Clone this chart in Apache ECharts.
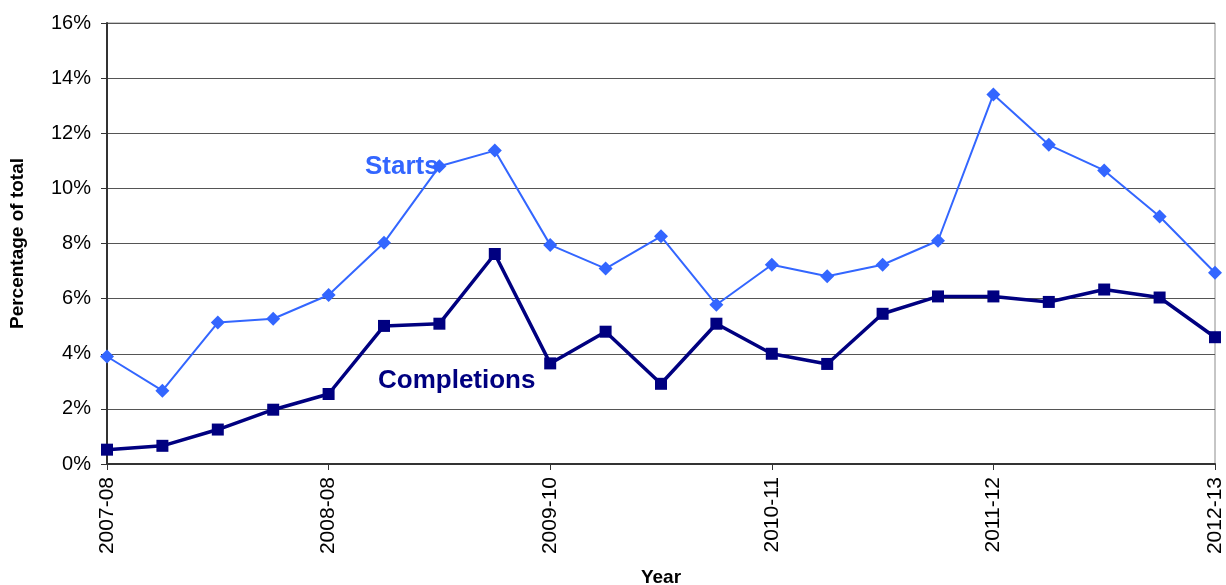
<!DOCTYPE html>
<html>
<head>
<meta charset="utf-8">
<script src="https://cdn.jsdelivr.net/npm/echarts@6/dist/echarts.min.js"></script>
<style>
html,body{margin:0;padding:0;background:#fff;}
#chart{width:1226px;height:585px;}
</style>
</head>
<body>
<div id="chart"></div>
<script>
var categories = ['2007-08','','','','2008-08','','','','2009-10','','','','2010-11','','','','2011-12','','','','2012-13'];
var starts = [3.9,2.66,5.13,5.27,6.13,8.03,10.8,11.37,7.95,7.09,8.26,5.78,7.23,6.81,7.23,8.1,13.41,11.58,10.65,8.98,6.94];
var completions = [0.52,0.66,1.25,1.97,2.54,5.01,5.09,7.62,3.65,4.8,2.91,5.09,4.0,3.63,5.45,6.08,6.08,5.88,6.33,6.04,4.6];
var yTicks = {min:0, max:16, interval:2};

var chart = echarts.init(document.getElementById('chart'));
var font = 'Arial, "Liberation Sans", sans-serif';
chart.setOption({
  animation:false,
  backgroundColor:'#fff',
  grid:{left:107,right:11,top:23,bottom:121,show:true,borderColor:'#8c8c8c',borderWidth:1,containLabel:false,outerBoundsMode:'none'},
  xAxis:{
    type:'category',data:categories,boundaryGap:false,
    name:'Year',nameLocation:'middle',nameGap:104,
    nameTextStyle:{fontFamily:font,fontWeight:'bold',fontSize:19,color:'#000'},
    axisLine:{lineStyle:{color:'#333',width:2}},
    axisTick:{show:true,interval:3,length:6,lineStyle:{color:'#333'}},
    axisLabel:{interval:3,rotate:90,margin:13,fontFamily:font,fontSize:21,color:'#000'},
    splitLine:{show:false}
  },
  yAxis:{
    type:'value',min:yTicks.min,max:yTicks.max,interval:yTicks.interval,
    name:'Percentage of total',nameLocation:'middle',nameGap:80,
    nameTextStyle:{fontFamily:font,fontWeight:'bold',fontSize:19,color:'#000'},
    axisLine:{show:true,lineStyle:{color:'#333',width:2}},
    axisTick:{show:true,length:6,lineStyle:{color:'#333'}},
    axisLabel:{formatter:'{value}%',margin:16,fontFamily:font,fontSize:20,color:'#000'},
    splitLine:{lineStyle:{color:'#555',width:1}}
  },
  series:[
    {name:'Starts',type:'line',data:starts,symbol:'diamond',symbolSize:14,
     lineStyle:{color:'#3366ff',width:2},itemStyle:{color:'#3366ff'},z:3},
    {name:'Completions',type:'line',data:completions,symbol:'rect',symbolSize:12,
     lineStyle:{color:'#000080',width:3.5},itemStyle:{color:'#000080'},z:4}
  ],
  graphic:[
    {type:'text',left:365,top:154,z:0,style:{text:'Starts',font:'bold 26px '+font,fill:'#3366ff'}},
    {type:'text',left:378,top:368,z:0,style:{text:'Completions',font:'bold 26px '+font,fill:'#000080'}}
  ]
});
</script>
</body>
</html>
